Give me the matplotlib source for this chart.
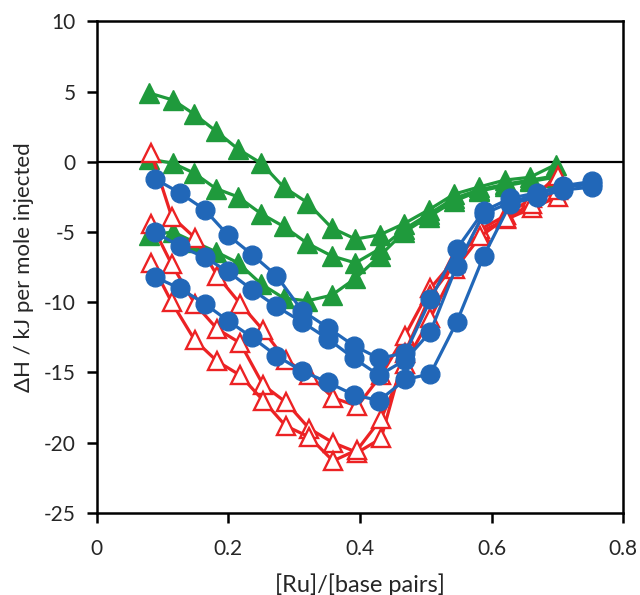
import numpy as np
import matplotlib
matplotlib.use("Agg")
import matplotlib.pyplot as plt

plt.rcParams['font.family'] = ['Lato', 'DejaVu Sans']
plt.rcParams['axes.unicode_minus'] = False

# titration points, three repeats per complex
x_green = [0.080, 0.116, 0.148, 0.181, 0.215, 0.250, 0.284, 0.320, 0.357,
           0.393, 0.430, 0.467, 0.505, 0.543, 0.580, 0.620, 0.658, 0.697]
green_1 = [4.9, 4.4, 3.4, 2.2, 0.9, -0.1, -1.8, -2.9, -4.7,
           -5.5, -5.2, -4.4, -3.4, -2.3, -1.8, -1.3, -1.1, -0.2]
green_2 = [0.2, -0.1, -0.8, -1.9, -2.5, -3.7, -4.6, -5.8, -6.7,
           -7.2, -6.2, -4.8, -3.7, -2.6, -2.0, -1.6, -1.3, -1.0]
green_3 = [-5.2, -5.0, -5.7, -6.4, -7.2, -8.7, -9.7, -9.9, -9.5,
           -8.3, -6.7, -5.0, -3.9, -2.8, -2.1, -1.7, -1.4, -1.1]

x_red = [0.083, 0.114, 0.149, 0.183, 0.218, 0.253, 0.287, 0.323, 0.359,
         0.396, 0.432, 0.468, 0.507, 0.545, 0.583, 0.622, 0.661, 0.700]
red_1 = [0.6, -3.9, -5.4, -8.1, -10.1, -12.0, -14.1, -15.2, -16.8,
         -17.4, -15.2, -12.4, -9.0, -6.9, -5.0, -4.1, -3.3, -2.5]
red_2 = [-4.4, -7.3, -10.1, -11.9, -12.9, -15.9, -17.1, -19.0, -20.0,
         -20.7, -19.7, -13.6, -9.5, -7.2, -4.8, -3.8, -2.6, -1.0]
red_3 = [-7.2, -10.0, -12.7, -14.2, -15.2, -17.0, -18.8, -19.6, -21.3,
         -20.5, -18.3, -14.4, -11.1, -7.6, -5.3, -4.0, -3.0, -2.0]

x_blue = [0.088, 0.126, 0.164, 0.199, 0.236, 0.273, 0.312, 0.351, 0.391,
          0.429, 0.469, 0.507, 0.547, 0.588, 0.628, 0.669, 0.709, 0.752]
blue_1 = [-1.2, -2.2, -3.4, -5.2, -6.6, -8.1, -10.6, -11.8, -13.1,
          -14.0, -13.6, -9.8, -6.2, -3.5, -2.6, -2.2, -1.7, -1.4]
blue_2 = [-5.0, -6.0, -6.8, -7.8, -9.1, -10.3, -11.4, -12.6, -14.0,
          -15.2, -14.1, -12.1, -7.4, -3.7, -2.9, -2.3, -1.8, -1.6]
blue_3 = [-8.2, -9.0, -10.1, -11.3, -12.5, -13.8, -14.9, -15.7, -16.6,
          -17.0, -15.5, -15.1, -11.4, -6.7, -3.0, -2.5, -2.0, -1.8]

green = '#1f9a3c'
red = '#ec2224'
blue = '#2167b8'
text_col = '#262626'

fig = plt.figure(figsize=(6.4, 5.95), dpi=100)
ax = fig.add_axes([0.151, 0.138, 0.823, 0.826])

ax.axhline(0, color='black', lw=1.6, zorder=1)

for y in (green_1, green_2, green_3):
    ax.plot(x_green, y, color=green, lw=2.3, marker='^', ms=14,
            mfc=green, mec=green, zorder=2)
for y in (red_1, red_2, red_3):
    ax.plot(x_red, y, color=red, lw=2.3, marker='^', ms=13.5,
            mfc='white', mec=red, mew=1.7, zorder=3)
for y in (blue_1, blue_2, blue_3):
    ax.plot(x_blue, y, color=blue, lw=2.3, marker='o', ms=13.5,
            mfc=blue, mec=blue, zorder=4)

ax.set_xlim(0, 0.8)
ax.set_ylim(-25, 10)
ax.set_xticks([0, 0.2, 0.4, 0.6, 0.8])
ax.set_xticklabels(['0', '0.2', '0.4', '0.6', '0.8'])
ax.set_yticks(np.arange(-25, 11, 5))
ax.tick_params(direction='out', length=7, width=1.8, labelsize=15,
               colors='black', labelcolor=text_col)
ax.tick_params(axis='x', pad=12)
ax.tick_params(axis='y', pad=8)
for s in ax.spines.values():
    s.set_linewidth(1.8)
    s.set_color('black')

ax.set_xlabel('[Ru]/[base pairs]', fontsize=17, labelpad=10, color=text_col)
ax.set_ylabel('ΔH / kJ per mole injected', fontsize=16, labelpad=7,
              color=text_col)

fig.savefig('out.png', dpi=100)
